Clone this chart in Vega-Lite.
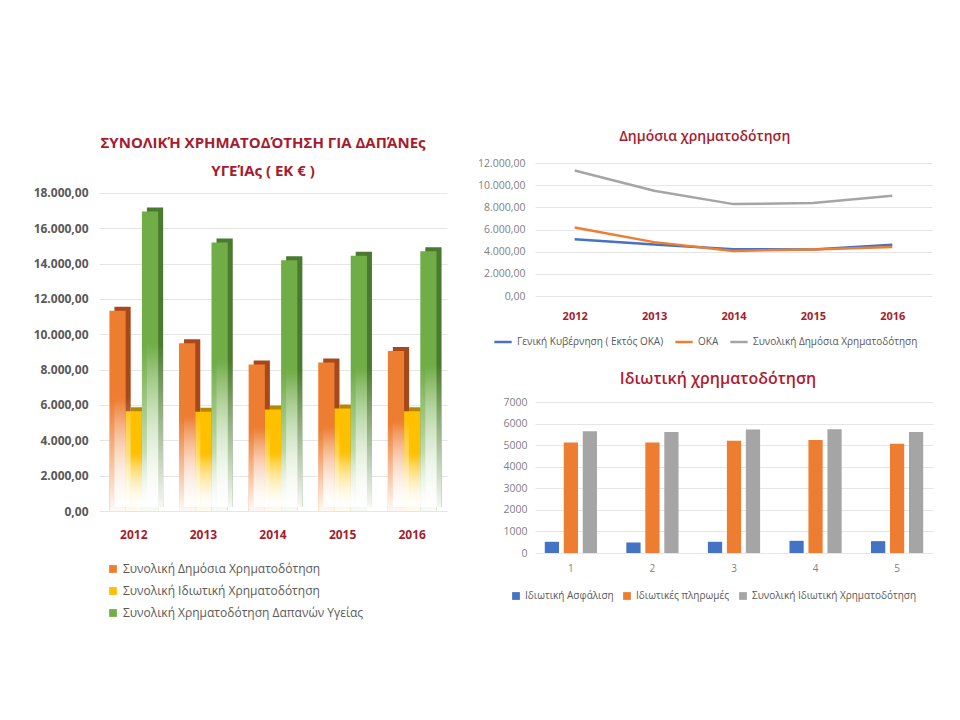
{
  "$schema": "https://vega.github.io/schema/vega-lite/v6.json",
  "padding": {"left": 33, "top": 130, "right": 5, "bottom": 5},
  "background": "white",
  "config": {
    "locale": {"number": {"decimal": ",", "thousands": ".", "grouping": [3], "currency": ["", " €"]}},
    "font": "Open Sans",
    "view": {"stroke": null},
    "axis": {"grid": true, "gridColor": "#E6E6E6", "domain": false, "ticks": false, "labelFont": "Open Sans"},
    "legend": {"labelFont": "Open Sans", "labelColor": "#595959", "labelLimit": 400}
  },
  "datasets": {
    "totals": [
      {"year": "2012", "series": "Συνολική Δημόσια Χρηματοδότηση", "value": 11330},
      {"year": "2012", "series": "Συνολική Ιδιωτική Χρηματοδότηση", "value": 5650},
      {"year": "2012", "series": "Συνολική Χρηματοδότηση Δαπανών Υγείας", "value": 16950},
      {"year": "2013", "series": "Συνολική Δημόσια Χρηματοδότηση", "value": 9500},
      {"year": "2013", "series": "Συνολική Ιδιωτική Χρηματοδότηση", "value": 5620},
      {"year": "2013", "series": "Συνολική Χρηματοδότηση Δαπανών Υγείας", "value": 15200},
      {"year": "2014", "series": "Συνολική Δημόσια Χρηματοδότηση", "value": 8290},
      {"year": "2014", "series": "Συνολική Ιδιωτική Χρηματοδότηση", "value": 5750},
      {"year": "2014", "series": "Συνολική Χρηματοδότηση Δαπανών Υγείας", "value": 14200},
      {"year": "2015", "series": "Συνολική Δημόσια Χρηματοδότηση", "value": 8400},
      {"year": "2015", "series": "Συνολική Ιδιωτική Χρηματοδότηση", "value": 5800},
      {"year": "2015", "series": "Συνολική Χρηματοδότηση Δαπανών Υγείας", "value": 14450},
      {"year": "2016", "series": "Συνολική Δημόσια Χρηματοδότηση", "value": 9050},
      {"year": "2016", "series": "Συνολική Ιδιωτική Χρηματοδότηση", "value": 5650},
      {"year": "2016", "series": "Συνολική Χρηματοδότηση Δαπανών Υγείας", "value": 14700}
    ],
    "public": [
      {"year": "2012", "series": "Γενική Κυβέρνηση ( Εκτός ΟΚΑ)", "value": 5120},
      {"year": "2013", "series": "Γενική Κυβέρνηση ( Εκτός ΟΚΑ)", "value": 4650},
      {"year": "2014", "series": "Γενική Κυβέρνηση ( Εκτός ΟΚΑ)", "value": 4220},
      {"year": "2015", "series": "Γενική Κυβέρνηση ( Εκτός ΟΚΑ)", "value": 4200},
      {"year": "2016", "series": "Γενική Κυβέρνηση ( Εκτός ΟΚΑ)", "value": 4620},
      {"year": "2012", "series": "ΟΚΑ", "value": 6180},
      {"year": "2013", "series": "ΟΚΑ", "value": 4860},
      {"year": "2014", "series": "ΟΚΑ", "value": 4070},
      {"year": "2015", "series": "ΟΚΑ", "value": 4200},
      {"year": "2016", "series": "ΟΚΑ", "value": 4430},
      {"year": "2012", "series": "Συνολική Δημόσια Χρηματοδότηση", "value": 11330},
      {"year": "2013", "series": "Συνολική Δημόσια Χρηματοδότηση", "value": 9500},
      {"year": "2014", "series": "Συνολική Δημόσια Χρηματοδότηση", "value": 8290},
      {"year": "2015", "series": "Συνολική Δημόσια Χρηματοδότηση", "value": 8400},
      {"year": "2016", "series": "Συνολική Δημόσια Χρηματοδότηση", "value": 9050}
    ],
    "private": [
      {"idx": "1", "series": "Ιδιωτική Ασφάλιση", "value": 520},
      {"idx": "1", "series": "Ιδιωτικές πληρωμές", "value": 5120},
      {"idx": "1", "series": "Συνολική Ιδιωτική Χρηματοδότηση", "value": 5640},
      {"idx": "2", "series": "Ιδιωτική Ασφάλιση", "value": 490},
      {"idx": "2", "series": "Ιδιωτικές πληρωμές", "value": 5120},
      {"idx": "2", "series": "Συνολική Ιδιωτική Χρηματοδότηση", "value": 5610},
      {"idx": "3", "series": "Ιδιωτική Ασφάλιση", "value": 520},
      {"idx": "3", "series": "Ιδιωτικές πληρωμές", "value": 5200},
      {"idx": "3", "series": "Συνολική Ιδιωτική Χρηματοδότηση", "value": 5730},
      {"idx": "4", "series": "Ιδιωτική Ασφάλιση", "value": 565},
      {"idx": "4", "series": "Ιδιωτικές πληρωμές", "value": 5240},
      {"idx": "4", "series": "Συνολική Ιδιωτική Χρηματοδότηση", "value": 5735},
      {"idx": "5", "series": "Ιδιωτική Ασφάλιση", "value": 550},
      {"idx": "5", "series": "Ιδιωτικές πληρωμές", "value": 5060},
      {"idx": "5", "series": "Συνολική Ιδιωτική Χρηματοδότηση", "value": 5610}
    ]
  },
  "columns": 2,
  "align": "none",
  "spacing": 30,
  "resolve": {
    "scale": {"color": "independent", "fill": "independent", "x": "independent", "y": "independent", "xOffset": "independent"},
    "legend": {"color": "independent", "fill": "independent"}
  },
  "concat": [
    {
      "width": 348,
      "height": 348,
      "data": {"name": "totals"},
      "title": {
        "text": ["ΣΥΝΟΛΙΚΉ ΧΡΗΜΑΤΟΔΌΤΗΣΗ ΓΙΑ ΔΑΠΆΝΕς", "ΥΓΕΊΑς ( ΕΚ € )"],
        "fontSize": 15, "fontWeight": "bold", "color": "#A61C2E", "lineHeight": 28,
        "offset": -16, "anchor": "middle", "dx": -10
      },
      "resolve": {"scale": {"xOffset": "independent"}},
      "encoding": {
        "x": {"field": "year", "type": "ordinal",
          "scale": {"paddingInner": 0.3, "paddingOuter": 0.15},
          "axis": {"title": null, "labelAngle": 0, "labelColor": "#A61C2E", "labelFontWeight": "bold", "labelFontSize": 12, "labelPadding": 18, "grid": false}},
        "y": {"field": "value", "type": "quantitative",
          "scale": {"domain": [0, 19698]},
          "axis": {"title": null, "values": [0, 2000, 4000, 6000, 8000, 10000, 12000, 14000, 16000, 18000], "format": ",.2f", "labelFontWeight": "bold", "labelColor": "#595959", "labelFontSize": 12, "labelPadding": 11}}
      },
      "layer": [
        {"mark": {"type": "bar", "yOffset": -4},
          "encoding": {
            "xOffset": {"field": "series", "type": "nominal", "scale": {"range": [5, 53.72], "paddingInner": 0, "paddingOuter": 0}},
            "fill": {"field": "series", "type": "nominal", "scale": {"range": ["#A8481A", "#B48800", "#4A7A2D"]}, "legend": null}}},
        {"mark": {"type": "bar"},
          "encoding": {
            "xOffset": {"field": "series", "type": "nominal", "scale": {"paddingInner": 0, "paddingOuter": 0}},
            "color": {"field": "series", "type": "nominal", "scale": {"range": ["#ED7D31", "#FFC000", "#70AD47"]},
            "legend": {"title": null, "orient": "none", "legendX": 8, "legendY": 400, "direction": "vertical", "symbolType": "square", "symbolSize": 60, "labelFontSize": 12, "rowPadding": 10}}}},
        {"mark": {"type": "bar", "yOffset": -4,
          "fill": {"gradient": "linear", "x1": 0, "y1": 0, "x2": 0, "y2": 1, "stops": [{"offset": 0, "color": "rgba(255,255,255,0)"}, {"offset": 0.45, "color": "rgba(255,255,255,0)"}, {"offset": 1, "color": "rgba(255,255,255,0.95)"}]}},
          "encoding": {"xOffset": {"field": "series", "type": "nominal", "scale": {"range": [5, 53.72], "paddingInner": 0, "paddingOuter": 0}}}},
        {"mark": {"type": "bar",
          "fill": {"gradient": "linear", "x1": 0, "y1": 0, "x2": 0, "y2": 1, "stops": [{"offset": 0, "color": "rgba(255,255,255,0)"}, {"offset": 0.45, "color": "rgba(255,255,255,0)"}, {"offset": 1, "color": "rgba(255,255,255,0.95)"}]}},
          "encoding": {"xOffset": {"field": "series", "type": "nominal", "scale": {"paddingInner": 0, "paddingOuter": 0}}}}
      ]
    },
    {
      "spacing": 24,
      "resolve": {
        "scale": {"color": "independent", "x": "independent", "y": "independent", "xOffset": "independent"},
        "legend": {"color": "independent"}
      },
      "vconcat": [
        {
          "width": 397,
          "height": 133,
          "data": {"name": "public"},
          "title": {"text": "Δημόσια χρηματοδότηση", "fontSize": 14, "fontWeight": 600, "color": "#A61C2E", "frame": "bounds", "anchor": "middle", "offset": 14},
          "mark": {"type": "line", "strokeWidth": 2.5},
          "encoding": {
            "x": {"field": "year", "type": "ordinal", "scale": {"type": "point", "padding": 0.5},
              "axis": {"title": null, "labelAngle": 0, "labelColor": "#A61C2E", "labelFontWeight": "bold", "labelFontSize": 11, "labelPadding": 14, "grid": false}},
            "y": {"field": "value", "type": "quantitative", "scale": {"domain": [0, 12000]},
              "axis": {"title": null, "values": [0, 2000, 4000, 6000, 8000, 10000, 12000], "format": ",.2f", "labelColor": "#7F7F7F", "labelFontSize": 10.5, "labelPadding": 10}},
            "color": {"field": "series", "type": "nominal",
              "sort": ["Γενική Κυβέρνηση ( Εκτός ΟΚΑ)", "ΟΚΑ", "Συνολική Δημόσια Χρηματοδότηση"],
              "scale": {"domain": ["Γενική Κυβέρνηση ( Εκτός ΟΚΑ)", "ΟΚΑ", "Συνολική Δημόσια Χρηματοδότηση"], "range": ["#4472C4", "#ED7D31", "#A5A5A5"]},
              "legend": {"title": null, "orient": "none", "legendX": -42, "legendY": 169, "direction": "horizontal", "symbolType": "stroke", "symbolStrokeWidth": 2.5, "symbolSize": 300, "labelFontSize": 10, "columnPadding": 6}}
          }
        },
        {
          "width": 398,
          "height": 151,
          "data": {"name": "private"},
          "title": {"text": "Ιδιωτική  χρηματοδότηση", "fontSize": 16, "fontWeight": 600, "color": "#B01C2E", "frame": "bounds", "anchor": "middle", "offset": 10},
          "mark": {"type": "bar"},
          "encoding": {
            "x": {"field": "idx", "type": "ordinal", "scale": {"paddingInner": 0.36, "paddingOuter": 0.12},
              "axis": {"title": null, "labelAngle": 0, "labelColor": "#7F7F7F", "labelFontSize": 10, "labelPadding": 10, "grid": false}},
            "xOffset": {"field": "series", "type": "nominal",
              "sort": ["Ιδιωτική Ασφάλιση", "Ιδιωτικές πληρωμές", "Συνολική Ιδιωτική Χρηματοδότηση"],
              "scale": {"paddingInner": 0.25, "paddingOuter": 0}},
            "y": {"field": "value", "type": "quantitative", "scale": {"domain": [0, 7000]},
              "axis": {"title": null, "values": [0, 1000, 2000, 3000, 4000, 5000, 6000, 7000], "format": "d", "labelColor": "#7F7F7F", "labelFontSize": 10.5, "labelPadding": 8}},
            "color": {"field": "series", "type": "nominal",
              "scale": {"domain": ["Ιδιωτική Ασφάλιση", "Ιδιωτικές πληρωμές", "Συνολική Ιδιωτική Χρηματοδότηση"], "range": ["#4472C4", "#ED7D31", "#A5A5A5"]},
              "legend": {"title": null, "orient": "none", "legendX": -24, "legendY": 189, "direction": "horizontal", "symbolType": "square", "symbolSize": 60, "labelFontSize": 10, "columnPadding": 8}}
          }
        }
      ]
    }
  ]
}
